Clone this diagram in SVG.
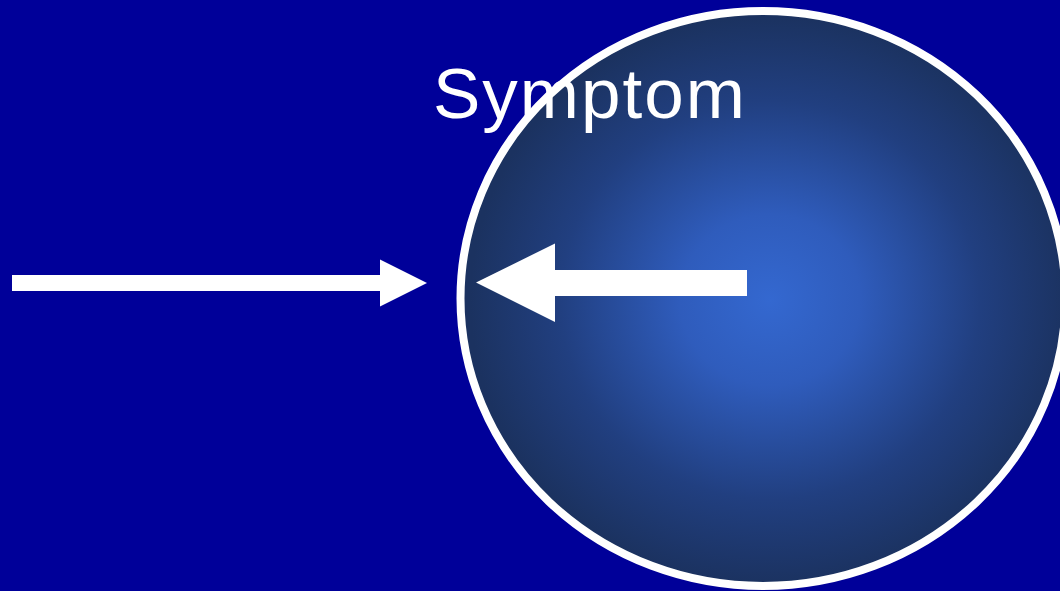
<svg xmlns="http://www.w3.org/2000/svg" width="1060" height="591" viewBox="0 0 1060 591">
  <defs>
    <radialGradient id="glow" cx="770" cy="300" r="300" gradientUnits="userSpaceOnUse" gradientTransform="translate(770 300) scale(1 0.95) translate(-770 -300)">
      <stop offset="0" stop-color="#3468d0"/>
      <stop offset="0.3" stop-color="#2f5cbc"/>
      <stop offset="0.7" stop-color="#213f80"/>
      <stop offset="1" stop-color="#1b3260"/>
    </radialGradient>
    <style>
      .arrow { fill: #ffffff; }
      .label { font-family: "Liberation Sans", Arial, sans-serif; font-size: 71px; fill: #ffffff; }
    </style>
  </defs>
  <rect width="1060" height="591" fill="#000099"/>
  <g id="symptom">
    <ellipse cx="763" cy="298.5" rx="302.5" ry="287.5" fill="url(#glow)" stroke="#ffffff" stroke-width="8"/>
    <text class="label" x="433" y="118" letter-spacing="2">Symptom</text>
  </g>
  <g id="connectors">
    <polygon class="arrow" points="12,275 380,275 380,259.5 427,283 380,306.5 380,291 12,291"/>
    <polygon class="arrow" points="747,270 555,270 555,243.5 476,282.5 555,322 555,296 747,296"/>
  </g>
</svg>
